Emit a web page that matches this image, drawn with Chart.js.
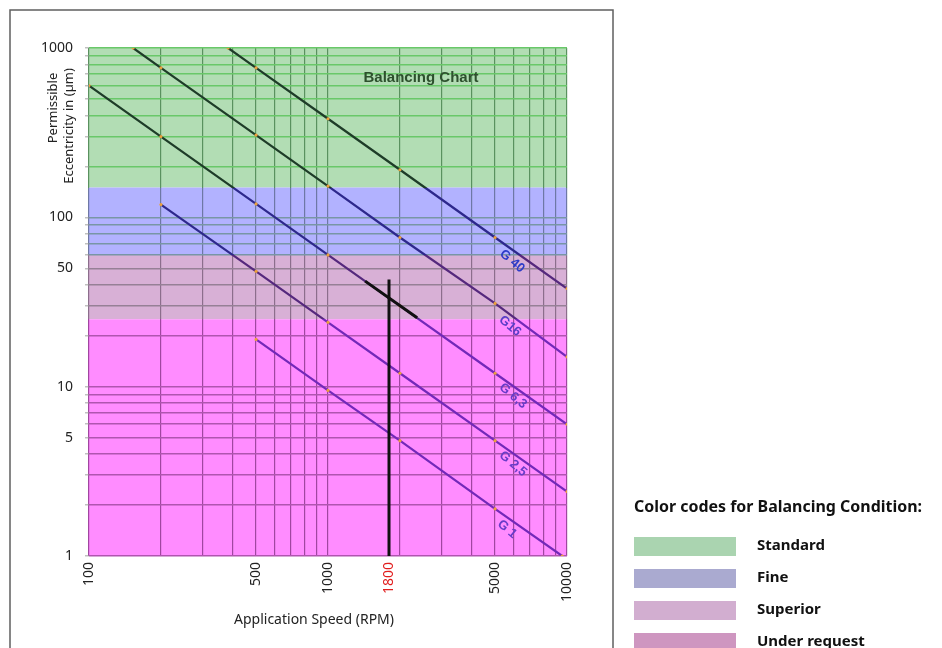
<!DOCTYPE html>
<html>
<head>
<meta charset="utf-8">
<title>Balancing Chart</title>
<script src="https://cdn.jsdelivr.net/npm/chart.js@4.4.1/dist/chart.umd.min.js"></script>
<style>
  html, body { margin: 0; padding: 0; background: #fff; }
  #wrap { width: 942px; height: 648px; position: relative; }
</style>
</head>
<body>
<div id="wrap"><canvas id="chart" width="942" height="648"></canvas></div>
<script>
// balancing grades, speed (rpm) -> permissible eccentricity (um)
const gradeNames = ["G 40", "G16", "G 6,3", "G 2,5", "G 1"];
const g40Speed = [382, 500, 1000, 2000, 5000, 10000];
const g40Ecc = [1000, 764, 382, 191, 76, 38];
const g16Speed = [153, 200, 500, 1000, 2000, 5000, 10000];
const g16Ecc = [1000, 764, 306, 153, 76, 31, 15];
const g63Speed = [100, 200, 500, 1000, 2000, 5000, 10000];
const g63Ecc = [600, 300, 120, 60, 30, 12, 6];
const g25Speed = [200, 500, 1000, 2000, 5000, 10000];
const g25Ecc = [119, 48, 24, 12, 4.8, 2.4];
const g1Speed = [500, 1000, 2000, 5000, 9550];
const g1Ecc = [19, 9.5, 4.8, 1.9, 1];

// the 1800 rpm reading
const markSpeed = [1800, 1800];
const markEcc = [1, 43];
const cutSpeed = [1430, 2360];
const cutEcc = [42, 25.5];

// colour bands (edges in um, top to bottom)
const bandNames = ["Standard", "Fine", "Superior", "Under request"];
const bandEdges = [1000, 150, 60, 25, 1];

// ticks
const xGrid = [100, 200, 300, 400, 500, 600, 700, 800, 900, 1000, 1800, 2000, 3000, 4000, 5000, 6000, 7000, 8000, 9000, 10000];
const xTickLabels = [100, 500, 1000, 1800, 5000, 10000];
const yGrid = [1, 2, 3, 4, 5, 6, 7, 8, 9, 10, 20, 30, 40, 50, 60, 70, 80, 90, 100, 200, 300, 400, 500, 600, 700, 800, 900, 1000];
const yTickLabels = [1, 5, 10, 50, 100, 1000];

// styling
const bandFill = ["rgb(178,221,180)", "rgb(178,178,255)", "rgb(216,176,214)", "rgb(255,140,255)"];
const bandLine = ["rgb(30,60,40)", "rgb(45,40,140)", "rgb(85,40,125)", "rgb(115,40,185)"];
const bandHGrid = ["rgb(105,200,105)", "rgb(120,150,165)", "rgb(150,128,150)", "rgb(175,85,175)"];
const bandVGrid = ["rgb(90,145,95)", "rgb(110,120,165)", "rgb(140,110,140)", "rgb(160,70,160)"];
const legendSwatch = ["rgb(170,212,176)", "rgb(170,170,208)", "rgb(210,174,208)", "rgb(206,150,192)"];
const gradeLabelColor = ["rgb(45,60,200)", "rgb(90,60,200)", "rgb(105,60,200)", "rgb(105,60,200)", "rgb(105,60,200)"];
const gradeLabelAt = [[5890, 55], [5770, 22.8], [5940, 8.8], [5940, 3.5], [5610, 1.44]];

const FONT = '"Noto Sans", "Open Sans", sans-serif';

const bandIndex = (v) => {
  for (let i = 0; i < bandNames.length; i++) {
    if (v >= bandEdges[i + 1]) return i;
  }
  return bandNames.length - 1;
};

// vertical gradient with hard stops at the band edges
const bandGradient = (chart, colors) => {
  const { chartArea, scales } = chart;
  if (!chartArea || !scales.y) return colors[colors.length - 1];
  const top = chartArea.top, h = chartArea.bottom - chartArea.top;
  const g = chart.ctx.createLinearGradient(0, top, 0, chartArea.bottom);
  const clamp = (t) => Math.min(1, Math.max(0, t));
  for (let i = 0; i < colors.length; i++) {
    const t0 = clamp((scales.y.getPixelForValue(bandEdges[i]) - top) / h);
    const t1 = clamp((scales.y.getPixelForValue(bandEdges[i + 1]) - top) / h);
    g.addColorStop(t0, colors[i]);
    g.addColorStop(t1, colors[i]);
  }
  return g;
};

const toPoints = (xs, ys) => xs.map((x, i) => ({ x: x, y: ys[i] }));

const gradeSeries = [
  [g40Speed, g40Ecc],
  [g16Speed, g16Ecc],
  [g63Speed, g63Ecc],
  [g25Speed, g25Ecc],
  [g1Speed, g1Ecc],
];

const datasets = gradeSeries.map((s, i) => ({
  label: gradeNames[i],
  data: toPoints(s[0], s[1]),
  borderColor: (ctx) => bandGradient(ctx.chart, bandLine),
  borderWidth: 2.2,
  pointRadius: 1.6,
  pointBorderWidth: 0,
  pointBackgroundColor: "rgb(235,160,60)",
  order: 2,
}));

// black marks go on top (lower order is drawn last)
datasets.push({
  label: "1800 rpm",
  data: toPoints(markSpeed, markEcc),
  borderColor: "#111",
  borderWidth: 3,
  pointRadius: 0,
  order: 0,
});
datasets.push({
  label: "G 6,3 at 1800 rpm",
  data: toPoints(cutSpeed, cutEcc),
  borderColor: "#111",
  borderWidth: 3,
  pointRadius: 0,
  order: 0,
});

// bands + frame, behind the grid
const backdrop = {
  id: "backdrop",
  beforeDraw(chart) {
    const { ctx, chartArea, scales } = chart;
    ctx.save();
    ctx.strokeStyle = "rgb(95,95,95)";
    ctx.lineWidth = 1.5;
    ctx.strokeRect(10, 10, 603, 660);
    for (let i = 0; i < bandNames.length; i++) {
      const y0 = scales.y.getPixelForValue(bandEdges[i]);
      const y1 = scales.y.getPixelForValue(bandEdges[i + 1]);
      ctx.fillStyle = bandFill[i];
      ctx.fillRect(chartArea.left, y0, chartArea.right - chartArea.left, y1 - y0);
    }
    ctx.restore();
  },
};

// titles, grade labels and the colour key
const annotations = {
  id: "annotations",
  afterDatasetsDraw(chart) {
    const { ctx, scales } = chart;
    const x = scales.x, y = scales.y;
    const angle = Math.atan2(
      y.getPixelForValue(1) - y.getPixelForValue(10),
      x.getPixelForValue(1000) - x.getPixelForValue(100)
    );
    ctx.save();
    ctx.textAlign = "center";
    ctx.textBaseline = "middle";

    ctx.font = 'bold 15px "Liberation Sans", Arial, sans-serif';
    ctx.fillStyle = "rgb(45,80,45)";
    ctx.fillText("Balancing Chart", x.getPixelForValue(2450), y.getPixelForValue(666));

    ctx.font = 'bold 13px "Liberation Sans", Arial, sans-serif';
    gradeNames.forEach((name, i) => {
      const px = x.getPixelForValue(gradeLabelAt[i][0]);
      const py = y.getPixelForValue(gradeLabelAt[i][1]);
      ctx.save();
      ctx.translate(px, py);
      ctx.rotate(angle + 0.08);
      ctx.fillStyle = gradeLabelColor[i];
      ctx.fillText(name, 0, 0);
      ctx.restore();
    });
    ctx.restore();
  },
  afterDraw(chart) {
    const { ctx } = chart;
    ctx.save();
    ctx.fillStyle = "#222";
    ctx.textBaseline = "middle";
    ctx.textAlign = "center";

    // axis titles
    ctx.font = "14px " + FONT;
    ctx.fillText("Application Speed (RPM)", 314, 620);
    ctx.save();
    ctx.translate(53, 108);
    ctx.rotate(-Math.PI / 2);
    ctx.font = "13px " + FONT;
    ctx.fillText("Permissible", 0, 0);
    ctx.restore();
    ctx.save();
    ctx.translate(69, 126);
    ctx.rotate(-Math.PI / 2);
    ctx.font = "13px " + FONT;
    ctx.fillText("Eccentricity in (\u00b5m)", 0, 0, 122);
    ctx.restore();

    // colour key
    ctx.textAlign = "left";
    ctx.fillStyle = "#111";
    ctx.font = "bold 16px " + FONT;
    ctx.fillText("Color codes for Balancing Condition:", 634, 507, 288);
    ctx.font = "bold 15px " + FONT;
    bandNames.forEach((name, i) => {
      const top = 537 + i * 32;
      ctx.fillStyle = legendSwatch[i];
      ctx.fillRect(634, top, 102, 19);
      ctx.fillStyle = "#111";
      ctx.fillText(name, 757, top + 9, 140);
    });
    ctx.restore();
  },
};

new Chart(document.getElementById("chart"), {
  type: "line",
  data: { datasets: datasets },
  plugins: [backdrop, annotations],
  options: {
    responsive: false,
    animation: false,
    events: [],
    layout: { padding: { left: 0, top: 48, right: 375, bottom: 0 } },
    plugins: {
      legend: { display: false },
      tooltip: { enabled: false },
    },
    scales: {
      x: {
        type: "logarithmic",
        min: 100,
        max: 10000,
        afterBuildTicks: (scale) => {
          scale.ticks = xGrid.map((v) => ({ value: v }));
        },
        afterFit: (scale) => {
          scale.height = 92;
        },
        border: { display: false },
        grid: {
          color: (ctx) =>
            ctx.tick && ctx.tick.value === 1800
              ? "rgba(0,0,0,0)"
              : bandGradient(ctx.chart, bandVGrid),
          lineWidth: 1.2,
          drawTicks: false,
        },
        ticks: {
          autoSkip: false,
          minRotation: 90,
          maxRotation: 90,
          padding: 6,
          font: { family: FONT, size: 14 },
          color: (ctx) => (ctx.tick && ctx.tick.value === 1800 ? "rgb(225,30,30)" : "#222"),
          callback: (value) => (xTickLabels.includes(value) ? String(value) : ""),
        },
      },
      y: {
        type: "logarithmic",
        min: 1,
        max: 1000,
        afterBuildTicks: (scale) => {
          scale.ticks = yGrid.map((v) => ({ value: v }));
        },
        afterFit: (scale) => {
          scale.width = 89;
        },
        border: { display: false },
        grid: {
          color: (ctx) => (ctx.tick ? bandHGrid[bandIndex(ctx.tick.value)] : "#999"),
          lineWidth: 1.5,
          tickLength: 4,
          tickColor: "rgba(150,150,150,0.6)",
        },
        ticks: {
          autoSkip: false,
          padding: 12,
          font: { family: FONT, size: 14 },
          color: "#222",
          callback: (value) => (yTickLabels.includes(value) ? String(value) : ""),
        },
      },
    },
  },
});
</script>
</body>
</html>
